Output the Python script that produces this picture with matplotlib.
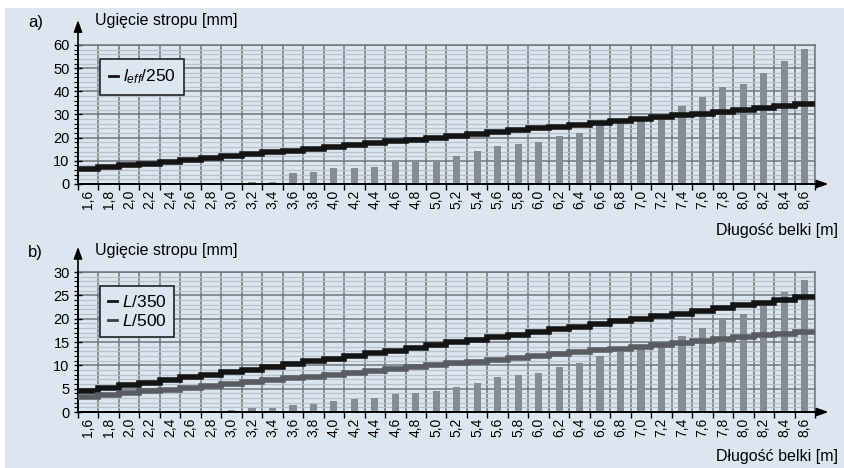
import matplotlib
matplotlib.use("Agg")
import matplotlib.pyplot as plt
from matplotlib.patches import Rectangle
from matplotlib.lines import Line2D
from matplotlib.ticker import MultipleLocator, FixedLocator, NullFormatter

plt.rcParams['font.family'] = ['Liberation Sans', 'DejaVu Sans']
plt.rcParams['mathtext.fontset'] = 'custom'
plt.rcParams['mathtext.it'] = 'Liberation Sans:italic'
plt.rcParams['mathtext.rm'] = 'Liberation Sans'

# dlugosci belek [m]
lengths = ["1,6", "1,8", "2,0", "2,2", "2,4", "2,6", "2,8", "3,0", "3,2", "3,4",
           "3,6", "3,8", "4,0", "4,2", "4,4", "4,6", "4,8", "5,0", "5,2", "5,4",
           "5,6", "5,8", "6,0", "6,2", "6,4", "6,6", "6,8", "7,0", "7,2", "7,4",
           "7,6", "7,8", "8,0", "8,2", "8,4", "8,6"]

# panel a) ugiecia [mm]
defl_a = [0, 0, 0, 0, 0, 0.2, 0.2, 0.4, 0.8, 0.9,
          4.7, 5.0, 6.8, 7.0, 7.5, 9.3, 9.3, 9.8, 12.1, 14.2,
          16.5, 17.2, 18.0, 20.8, 22.0, 25.4, 26.2, 28.7, 29.7, 33.6,
          37.6, 41.7, 43.0, 47.7, 52.9, 58.2]
leff_250 = [6.4, 7.2, 8.0, 8.8, 9.6, 10.4, 11.2, 12.0, 12.8, 13.6,
            14.4, 15.2, 16.0, 16.8, 17.6, 18.4, 19.2, 20.0, 20.8, 21.6,
            22.4, 23.2, 24.0, 24.8, 25.6, 26.4, 27.2, 28.0, 28.8, 29.6,
            30.4, 31.2, 32.0, 32.8, 33.6, 34.4]

# panel b) ugiecia [mm]
defl_b = [0, 0, 0.05, 0.05, 0.1, 0.1, 0.2, 0.5, 0.85, 0.9,
          1.4, 1.8, 2.4, 2.7, 3.1, 3.9, 4.1, 4.5, 5.4, 6.3,
          7.4, 7.9, 8.4, 9.6, 10.4, 11.9, 12.9, 13.4, 14.1, 16.3,
          18.1, 20.2, 21.1, 22.7, 25.8, 28.2]
L_350 = [4.6, 5.1, 5.7, 6.3, 6.9, 7.4, 8.0, 8.6, 9.1, 9.7,
         10.3, 10.9, 11.4, 12.0, 12.6, 13.1, 13.7, 14.3, 14.9, 15.4,
         16.0, 16.6, 17.1, 17.7, 18.3, 18.9, 19.4, 20.0, 20.6, 21.1,
         21.7, 22.3, 22.9, 23.4, 24.0, 24.6]
L_500 = [3.2, 3.6, 4.0, 4.4, 4.8, 5.2, 5.6, 6.0, 6.4, 6.8,
         7.2, 7.6, 8.0, 8.4, 8.8, 9.2, 9.6, 10.0, 10.4, 10.8,
         11.2, 11.6, 12.0, 12.4, 12.8, 13.2, 13.6, 14.0, 14.4, 14.8,
         15.2, 15.6, 16.0, 16.4, 16.8, 17.2]

bg = '#dce6f0'
bar_col = '#868c94'
grid_major = '#6f757c'
grid_minor = '#b9c1ca'

fig = plt.figure(figsize=(8.45, 4.68), dpi=100)
fig.patches.append(Rectangle((5 / 845, 0), 1, 1 - 8 / 468, transform=fig.transFigure,
                             facecolor=bg, edgecolor='none', zorder=-10))

ax_a = fig.add_axes([78 / 845, 1 - 184 / 468, 737 / 845, 139 / 468])
ax_b = fig.add_axes([78 / 845, 1 - 412 / 468, 737 / 845, 140 / 468])


def setup(ax, ymax, major, minor):
    ax.set_facecolor('none')
    n = len(lengths)
    x = list(range(n))
    ax.set_xlim(-0.5, n - 0.5)
    ax.set_ylim(0, ymax)
    # siatka
    ax.yaxis.set_major_locator(MultipleLocator(major))
    ax.yaxis.set_minor_locator(MultipleLocator(minor))
    ax.xaxis.set_major_locator(FixedLocator(x))
    ax.xaxis.set_minor_locator(FixedLocator([i - 0.5 for i in range(n + 1)]))
    ax.set_xticklabels(lengths, rotation=90, fontsize=10)
    ax.xaxis.set_minor_formatter(NullFormatter())
    ax.tick_params(axis='x', which='major', length=0, pad=4)
    ax.tick_params(axis='x', which='minor', length=4, width=1, direction='out', color='k')
    ax.tick_params(axis='y', which='major', length=6, width=1, direction='inout', labelsize=10.5, pad=3)
    ax.tick_params(axis='y', which='minor', length=3, width=0.8, direction='out')
    ax.grid(True, which='minor', axis='y', color=grid_minor, lw=0.9, zorder=0)
    ax.grid(True, which='major', axis='y', color=grid_major, lw=1.1, zorder=0)
    ax.grid(True, which='minor', axis='x', color=grid_major, lw=1.1, zorder=0)
    ax.set_axisbelow(True)
    for s in ['top', 'right']:
        ax.spines[s].set_color(grid_major)
        ax.spines[s].set_linewidth(1.1)
    ax.spines['left'].set_linewidth(1.2)
    ax.spines['bottom'].set_linewidth(1.2)
    # strzalki osi
    ax.annotate('', xy=(1.022, 0), xytext=(0, 0), xycoords='axes fraction',
                arrowprops=dict(arrowstyle='-|>,head_length=0.7,head_width=0.25', color='k', lw=1.2))
    ax.annotate('', xy=(0, 1.2), xytext=(0, 0), xycoords='axes fraction',
                arrowprops=dict(arrowstyle='-|>,head_length=0.7,head_width=0.25', color='k', lw=1.2))
    return x


def legend(ax, handles, labels, pad, spacing):
    leg = ax.legend(handles, labels, loc='upper left', bbox_to_anchor=(0.03, 0.9),
                    handlelength=0.55, handletextpad=0.25, fontsize=12.5, frameon=True,
                    fancybox=False, borderpad=pad, labelspacing=spacing, borderaxespad=0)
    fr = leg.get_frame()
    fr.set_edgecolor('#222222')
    fr.set_facecolor(bg)
    fr.set_alpha(1)
    fr.set_linewidth(1.2)


edges = [i - 0.5 for i in range(len(lengths) + 1)]

x = setup(ax_a, 60, 10, 2)
ax_a.bar(x, defl_a, width=0.35, color=bar_col, zorder=2)
ax_a.stairs(leff_250, edges, baseline=None, color='#141414', lw=4, zorder=3)
legend(ax_a, [Line2D([], [], color='#141414', lw=2)],
       [r'$l_{\mathit{eff}}$/250'], 0.5, 0.3)

x = setup(ax_b, 30, 5, 1)
ax_b.bar(x, defl_b, width=0.35, color=bar_col, zorder=2)
ax_b.stairs(L_350, edges, baseline=None, color='#141414', lw=4, zorder=3)
ax_b.stairs(L_500, edges, baseline=None, color='#595d62', lw=4, zorder=3)
legend(ax_b, [Line2D([], [], color='#141414', lw=2), Line2D([], [], color='#3a3d41', lw=2)],
       [r'$L$/350', r'$L$/500'], 0.45, 0.2)

# opisy
fig.text(28 / 845, 1 - 22 / 468, 'a)', fontsize=12, va='center')
fig.text(95 / 845, 1 - 20 / 468, 'Ugięcie stropu [mm]', fontsize=11.5, va='center')
fig.text(838 / 845, 1 - 230 / 468, 'Długość belki [m]', fontsize=11.5, va='center', ha='right')
fig.text(28 / 845, 1 - 252 / 468, 'b)', fontsize=12, va='center')
fig.text(95 / 845, 1 - 250 / 468, 'Ugięcie stropu [mm]', fontsize=11.5, va='center')
fig.text(838 / 845, 1 - 456 / 468, 'Długość belki [m]', fontsize=11.5, va='center', ha='right')

fig.savefig('out.png', dpi=100)
